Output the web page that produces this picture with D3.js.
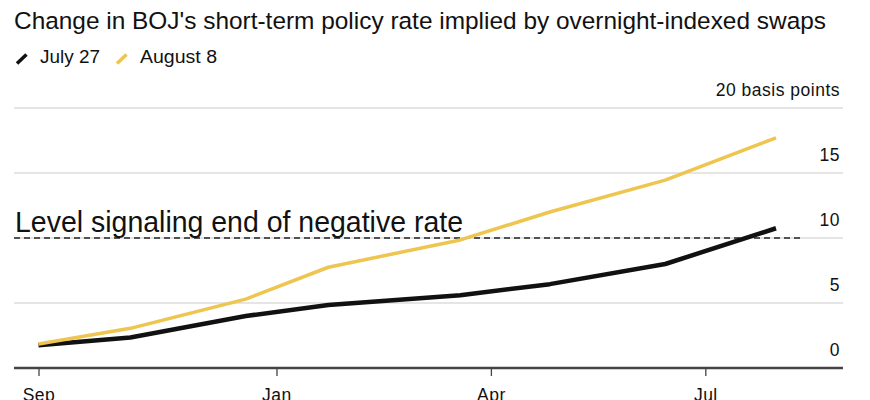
<!DOCTYPE html>
<html>
<head>
<meta charset="utf-8">
<script src="https://cdn.jsdelivr.net/npm/d3@7"></script>
<style>
  body { margin: 0; background: #fff; }
  text { font-family: "Liberation Sans", Arial, sans-serif; fill: #111; }
</style>
</head>
<body>
<svg id="chart"></svg>
<script>
// BOJ meeting dates priced by the OIS curve
var meetingDates = ["2023-09-22", "2023-10-31", "2023-12-19", "2024-01-23",
                    "2024-03-19", "2024-04-26", "2024-06-14", "2024-07-31"];
var july27 = [1.75, 2.35, 4.0, 4.85, 5.6, 6.45, 8.0, 10.75];
var august8 = [1.85, 3.05, 5.3, 7.75, 9.85, 12.0, 14.45, 17.7];
var seriesNames = ["July 27", "August 8"];
var seriesColors = ["#111111", "#eec54e"];

var yTicks = [0, 5, 10, 15, 20];
var xTickDates = ["2023-09-22", "2024-01-01", "2024-04-01", "2024-07-01"];
var xTickLabels = ["Sep", "Jan", "Apr", "Jul"];
var thresholdLevel = 10;
var thresholdLabel = "Level signaling end of negative rate";

var width = 870;
var height = 400;
var plot = { left: 14, right: 843 };

var parseDate = d3.timeParse("%Y-%m-%d");

var xScale = d3.scaleTime()
  .domain([parseDate(meetingDates[0]), parseDate(meetingDates[meetingDates.length - 1])])
  .range([38.5, 776]);
var yScale = d3.scaleLinear().domain([0, 20]).range([368, 108]);

var svg = d3.select("#chart")
  .attr("width", width)
  .attr("height", height);

// title + legend
svg.append("text")
  .attr("x", 14).attr("y", 28.5)
  .attr("textLength", 812)
  .attr("lengthAdjust", "spacingAndGlyphs")
  .style("font-size", "24.5px")
  .text("Change in BOJ's short-term policy rate implied by overnight-indexed swaps");

var legendX = [16, 116];
var legendW = [60, 77];
seriesNames.forEach(function(name, i) {
  var g = svg.append("g").attr("transform", "translate(" + legendX[i] + ",0)");
  g.append("line")
    .attr("x1", 1).attr("y1", 63.5)
    .attr("x2", 10.5).attr("y2", 54.5)
    .attr("stroke", seriesColors[i])
    .attr("stroke-width", 3.5);
  g.append("text")
    .attr("x", 24).attr("y", 63)
    .attr("textLength", legendW[i])
    .attr("lengthAdjust", "spacingAndGlyphs")
    .style("font-size", "18px")
    .text(name);
});

// gridlines and y labels
svg.append("g").selectAll("line")
  .data(yTicks.filter(function(d) { return d > 0; }))
  .enter().append("line")
    .attr("x1", plot.left).attr("x2", plot.right)
    .attr("y1", function(d) { return yScale(d); })
    .attr("y2", function(d) { return yScale(d); })
    .attr("stroke", "#dcdcdc")
    .attr("stroke-width", 1.5);

svg.append("g").selectAll("text")
  .data(yTicks)
  .enter().append("text")
    .attr("x", 840)
    .attr("y", function(d) { return yScale(d) - 12; })
    .attr("text-anchor", "end")
    .style("font-size", "17.5px")
    .style("letter-spacing", "0.5px")
    .text(function(d) { return d === 20 ? "20 basis points" : d; });

// x axis
var xAxis = d3.axisBottom(xScale)
  .tickValues(xTickDates.map(parseDate))
  .tickSize(8)
  .tickPadding(13)
  .tickFormat(function(d, i) { return xTickLabels[i]; });

var gx = svg.append("g")
  .attr("transform", "translate(0," + yScale(0) + ")")
  .call(xAxis);
gx.select(".domain").remove();
gx.selectAll(".tick line").attr("stroke", "#444").attr("stroke-width", 1.3);
gx.selectAll(".tick text")
  .style("font-size", "17.5px")
  .style("letter-spacing", "0.5px")
  .style("font-family", "'Liberation Sans', Arial, sans-serif")
  .attr("fill", "#111");
gx.insert("line", ":first-child")
  .attr("x1", plot.left).attr("x2", plot.right)
  .attr("y1", 0).attr("y2", 0)
  .attr("stroke", "#444")
  .attr("stroke-width", 2.5);

// threshold
svg.append("line")
  .attr("x1", plot.left).attr("x2", 802)
  .attr("y1", yScale(thresholdLevel)).attr("y2", yScale(thresholdLevel))
  .attr("stroke", "#222")
  .attr("stroke-width", 1.5)
  .attr("stroke-dasharray", "6,4");

svg.append("text")
  .attr("x", 15).attr("y", 231.5)
  .attr("textLength", 448)
  .attr("lengthAdjust", "spacingAndGlyphs")
  .style("font-size", "30px")
  .text(thresholdLabel);

// lines
var line = d3.line()
  .x(function(d) { return xScale(d.date); })
  .y(function(d) { return yScale(d.value); });

[july27, august8].forEach(function(values, i) {
  var pts = values.map(function(v, j) { return { date: parseDate(meetingDates[j]), value: v }; });
  svg.append("path")
    .datum(pts)
    .attr("d", line)
    .attr("fill", "none")
    .attr("stroke", seriesColors[i])
    .attr("stroke-width", i === 0 ? 4.5 : 3.5)
    .attr("stroke-linejoin", "round");
});
</script>
</body>
</html>
